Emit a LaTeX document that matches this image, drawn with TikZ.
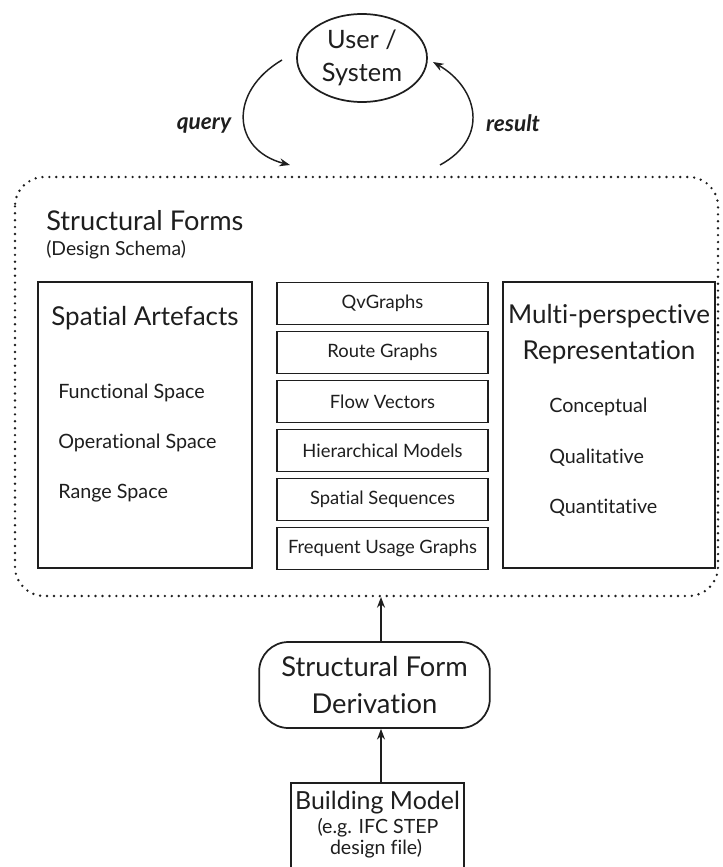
\documentclass[tikz,border=0pt]{standalone}
\usepackage{fontspec}
\setmainfont{Lato}[Ligatures=NoCommon]
\usetikzlibrary{arrows.meta,shapes.geometric}
\definecolor{ink}{HTML}{1E1E1E}
\newcommand{\fsz}[2]{\fontsize{#1}{#2}\selectfont}
\begin{document}
\begin{tikzpicture}[x=0.75pt,y=-0.75pt,
  frame/.style={draw=ink,line width=1.3pt},
  stackbox/.style={frame,minimum width=158pt,minimum height=31.5pt,inner sep=0pt,font=\fsz{13.8}{15},text=ink},
  bigtitle/.style={font=\fsz{19.5}{27},text=ink},
  itemtxt/.style={font=\fsz{14.8}{17},text=ink,anchor=west,inner sep=0pt},
  looplabel/.style={font=\bfseries\itshape\fsz{17}{19},text=ink},
  plain/.style={text=ink,inner sep=0pt},
  flow/.style={draw=ink,line width=1.1pt,-{Stealth[length=8pt,width=6pt]}},
  dotline/.style={draw=ink,line width=2pt,line cap=round,dash pattern=on 0pt off 5.2pt}]
\useasboundingbox (0,0) rectangle (722,867);

% user / system ellipse
\node[ellipse,frame,minimum width=97.5pt,minimum height=66pt,inner sep=0pt,
      align=center,font=\fsz{19}{24.5},text=ink] (user) at (362,58) {User /\\System};

% query / result loop
\coordinate (qs) at (282,60);
\coordinate (qe) at (290,165);
\coordinate (rs) at (440,165);
\coordinate (re) at (433,62);
\draw[flow] (qs) .. controls (228,92) and (232,150) .. (qe);
\draw[flow] (rs) .. controls (490,138) and (478,88) .. (re);
\node[looplabel] (qlab) at (204,125) {query};
\node[looplabel] (rlab) at (513,123) {result};

% dotted container of the structural forms
\draw[dotline,rounded corners=22pt] (15,177) rectangle (718,596);
\node[bigtitle,font=\fsz{20.4}{24},anchor=west,inner sep=0pt] (sftitle) at (46,221) {Structural Forms};
\node[plain,font=\fsz{14.5}{17},anchor=west] (sfsub) at (46,250) {(Design Schema)};

% spatial artefacts
\draw[frame] (38,282) rectangle (252,568);
\node[bigtitle] (satitle) at (145,318) {Spatial Artefacts};
\node[itemtxt] (sa1) at (58,393) {Functional Space};
\node[itemtxt] (sa2) at (58,443) {Operational Space};
\node[itemtxt] (sa3) at (58,493) {Range Space};

% stack of structural forms
\node[stackbox] (s1) at (382.5,303.5) {QvGraphs};
\node[stackbox] (s2) at (382.5,352.5) {Route Graphs};
\node[stackbox] (s3) at (382.5,401.5) {Flow Vectors};
\node[stackbox] (s4) at (382.5,450.5) {Hierarchical Models};
\node[stackbox] (s5) at (382.5,499.5) {Spatial Sequences};
\node[stackbox] (s6) at (382.5,548.5) {Frequent Usage Graphs};

% multi-perspective representation
\draw[frame] (503,282) rectangle (715,568);
\node[bigtitle,align=center] (mptitle) at (609,334) {Multi-perspective\\Representation};
\node[itemtxt] (mp1) at (549,407) {Conceptual};
\node[itemtxt] (mp2) at (549,458) {Qualitative};
\node[itemtxt] (mp3) at (549,508) {Quantitative};

% derivation chain
\coordinate (top) at (381,597);
\node[frame,rounded corners=22pt,minimum width=173pt,minimum height=64.5pt,inner sep=0pt,
      align=center,font=\fsz{20.5}{28},text=ink] (deriv) at (374.5,685) {Structural Form\\Derivation};
\node[frame,minimum width=129.75pt,minimum height=70pt,inner sep=0pt,anchor=north] (bm) at (377.5,782) {};
\node[plain,font=\fsz{18.7}{22}] (bm1) at (377.5,803) {Building Model};
\node[plain,font=\fsz{14.7}{17}] (bm2) at (378,828) {(e.g. IFC STEP};
\node[plain,font=\fsz{14.7}{17}] (bm3) at (376,849) {design file)};
\draw[flow] (deriv.north -| top) -- (top);
\draw[flow] (bm.north -| top) -- (deriv.south -| top);
\end{tikzpicture}
\end{document}
